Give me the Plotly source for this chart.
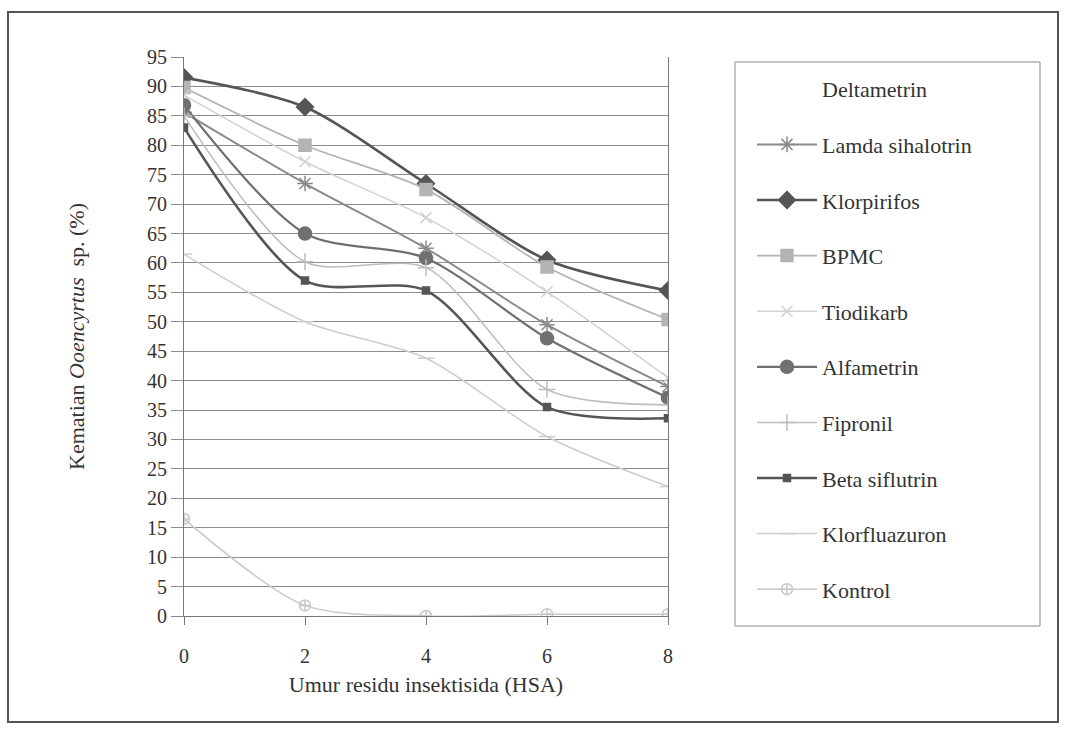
import plotly.graph_objects as go

# Residue age (days after application)
umur = [0, 2, 4, 6, 8]

# Mortality of Ooencyrtus sp. (%) per insecticide
deltametrin = [None, None, None, None, None]
lamda_sihalotrin = [85.6, 73.5, 62.5, 49.5, 39.0]
klorpirifos = [91.5, 86.5, 73.5, 60.5, 55.3]
bpmc = [89.8, 80.0, 72.5, 59.3, 50.4]
tiodikarb = [88.5, 77.2, 67.7, 55.1, 40.5]
alfametrin = [86.8, 65.0, 60.8, 47.2, 37.1]
fipronil = [85.0, 60.2, 59.2, 38.5, 35.9]
beta_siflutrin = [83.0, 57.0, 55.3, 35.5, 33.6]
klorfluazuron = [61.5, 50.0, 43.8, 30.5, 22.0]
kontrol = [16.5, 1.8, 0.0, 0.3, 0.3]

y_ticks = list(range(0, 100, 5))
x_ticks = [0, 2, 4, 6, 8]

FONT = "Liberation Serif, Times New Roman, serif"

series = [
    ("Deltametrin", deltametrin, "rgba(0,0,0,0)", 1.5, "circle", 1),
    ("Lamda sihalotrin", lamda_sihalotrin, "#8a8a8a", 2.0, "asterisk-open", 13),
    ("Klorpirifos", klorpirifos, "#555555", 2.6, "diamond", 13),
    ("BPMC", bpmc, "#b4b4b4", 1.8, "square", 12),
    ("Tiodikarb", tiodikarb, "#d2d2d2", 1.5, "x-thin-open", 11),
    ("Alfametrin", alfametrin, "#707070", 2.2, "circle", 13),
    ("Fipronil", fipronil, "#bdbdbd", 1.5, "cross-thin-open", 12),
    ("Beta siflutrin", beta_siflutrin, "#555555", 2.6, "square", 7),
    ("Klorfluazuron", klorfluazuron, "#cdcdcd", 1.5, "line-ew-open", 12),
    ("Kontrol", kontrol, "#c8c8c8", 1.5, "circle-cross-open", 11),
]

fig = go.Figure()
for i, (name, vals, color, lw, sym, ms) in enumerate(series):
    fig.add_trace(go.Scatter(
        x=umur, y=vals, name=name, mode="lines+markers",
        line=dict(color=color, width=lw, shape="spline", smoothing=0.8),
        marker=dict(symbol=sym, size=ms, color=color,
                    line=dict(color=color, width=1.5)),
        legendgroup=f"g{i}",
    ))

W, H = 1067, 732
L, R, T, B = 184, 668, 57, 616
pw, ph = R - L, B - T


def px_x(p):
    return (p - L) / pw


def px_y(p):
    return (B - p) / ph


fig.update_layout(
    width=W, height=H,
    margin=dict(l=L, r=W - R, t=T, b=H - B),
    paper_bgcolor="white", plot_bgcolor="white",
    font=dict(family=FONT, size=20, color="#333333"),
    showlegend=True,
    legend=dict(
        x=px_x(752), y=px_y(68), xanchor="left", yanchor="top",
        bgcolor="rgba(0,0,0,0)", borderwidth=0,
        font=dict(family=FONT, size=22, color="#333333"),
        tracegroupgap=24, itemwidth=60,
    ),
    xaxis=dict(
        range=[0, 8], tickvals=x_ticks, showgrid=False, zeroline=False,
        showline=True, linecolor="#777777", linewidth=1,
        ticks="outside", ticklen=8, tickcolor="#777777",
        ticklabelstandoff=14,
        title=dict(text="Umur residu insektisida (HSA)", standoff=10,
                   font=dict(family=FONT, size=22, color="#333333")),
    ),
    yaxis=dict(
        range=[0, 95], tickvals=y_ticks, showgrid=True,
        gridcolor="#8c8c8c", gridwidth=1, zeroline=False,
        showline=True, linecolor="#777777", linewidth=1, mirror=True,
        ticks="outside", ticklen=12, tickcolor="#8c8c8c",
        title=dict(text="Kematian <i>Ooencyrtus</i>  sp. (%)", standoff=56,
                   font=dict(family=FONT, size=22, color="#333333")),
    ),
    shapes=[
        dict(type="rect", xref="paper", yref="paper",
             x0=px_x(8), x1=px_x(1058), y0=px_y(722), y1=px_y(12),
             line=dict(color="#555555", width=2), layer="below"),
        dict(type="rect", xref="paper", yref="paper",
             x0=px_x(735), x1=px_x(1040), y0=px_y(626), y1=px_y(62),
             line=dict(color="#8c8c8c", width=1), layer="below"),
    ],
)

fig.write_html("out.html")
